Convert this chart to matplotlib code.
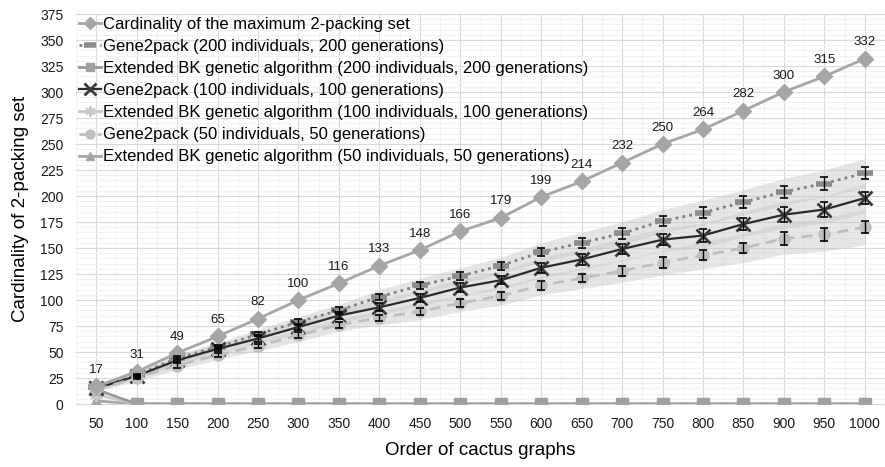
import matplotlib.pyplot as plt
from matplotlib.ticker import MultipleLocator

plt.rcParams['font.family'] = ['Liberation Sans', 'DejaVu Sans']

# order of the cactus graphs (categories)
orders = [50, 100, 150, 200, 250, 300, 350, 400, 450, 500,
          550, 600, 650, 700, 750, 800, 850, 900, 950, 1000]

# cardinality of the maximum 2-packing set
maximum = [17, 31, 49, 65, 82, 100, 116, 133, 148, 166,
           179, 199, 214, 232, 250, 264, 282, 300, 315, 332]

# Gene2pack results
g2p_200 = [16, 28, 44, 55, 67, 79, 90, 103, 114, 123,
           133, 146, 155, 164, 176, 184, 194, 204, 212, 222]
g2p_100 = [15, 27, 42, 53, 63, 74, 85, 93, 102, 112,
           119, 131, 139, 149, 158, 162, 173, 182, 187, 198]
g2p_50 = [14, 25, 37, 47, 56, 66, 76, 83, 89, 97,
          104, 114, 121, 128, 136, 143, 150, 159, 163, 170]

# error bars (half length)
err_200 = [0, 1, 2, 2, 2, 3, 3, 3, 3, 4, 4, 4, 5, 5, 5, 5, 6, 6, 6, 6]
err_100 = [0, 1, 2, 2, 3, 3, 3, 4, 4, 4, 4, 5, 5, 5, 5, 6, 6, 7, 7, 6]
err_50 = [0, 1, 2, 2, 2, 3, 3, 3, 3, 4, 4, 4, 4, 5, 5, 5, 5, 6, 6, 6]

# shaded spread around each series (half width)
band_200 = [2, 3, 4, 4, 5, 5, 6, 7, 7, 8, 8, 9, 10, 11, 11, 12, 12, 13, 13, 14]
band_100 = [2, 3, 4, 5, 5, 6, 7, 7, 8, 8, 9, 10, 10, 11, 11, 12, 12, 13, 13, 14]
band_50 = [2, 3, 4, 4, 5, 6, 6, 7, 8, 8, 9, 9, 10, 11, 12, 13, 14, 15, 16, 17]

# Extended BK genetic algorithm results
bk_200 = [14, 0, 0, 0, 0, 0, 0, 0, 0, 0, 0, 0, 0, 0, 0, 0, 0, 0, 0, 0]
bk_100 = [9, 0, 0, 0, 0, 0, 0, 0, 0, 0, 0, 0, 0, 0, 0, 0, 0, 0, 0, 0]
bk_50 = [3, 0, 0, 0, 0, 0, 0, 0, 0, 0, 0, 0, 0, 0, 0, 0, 0, 0, 0, 0]

x = list(range(len(orders)))

fig = plt.figure(figsize=(8.85, 4.67), dpi=100)
ax = fig.add_axes([76 / 885, 1 - 404 / 467, 1 - 76 / 885, (404 - 14) / 467])

# shaded bands
for vals, band in [(g2p_200, band_200), (g2p_100, band_100), (g2p_50, band_50)]:
    lo = [v - b for v, b in zip(vals, band)]
    hi = [v + b for v, b in zip(vals, band)]
    ax.fill_between(x, lo, hi, color='#c8c8c8', alpha=0.45, lw=0, zorder=1)


def add_errors(vals, err):
    # only draw bars where there is a spread
    pts = [(xi, v, e) for xi, v, e in zip(x, vals, err) if e > 0]
    ax.errorbar([p[0] for p in pts], [p[1] for p in pts], yerr=[p[2] for p in pts],
                fmt='none', ecolor='black', elinewidth=1, capsize=3, capthick=1.2,
                zorder=6)


h1, = ax.plot(x, maximum, color='#a6a6a6', lw=2, marker='D', ms=8,
              mfc='#a6a6a6', mec='#a6a6a6', zorder=5,
              label='Cardinality of the maximum 2-packing set')

h2, = ax.plot(x, g2p_200, color='#808080', lw=2, ls=(0, (1, 1.5)), marker='_',
              ms=11, mew=4, mec='#8c8c8c', zorder=4,
              label='Gene2pack (200 individuals, 200 generations)')
add_errors(g2p_200, err_200)

h4, = ax.plot(x, g2p_100, color='#2b2b2b', lw=1.6, marker='x', ms=10, mew=2,
              mec='#3a3a3a', zorder=4,
              label='Gene2pack (100 individuals, 100 generations)')
add_errors(g2p_100, err_100)

h6, = ax.plot(x, g2p_50, color='#bfbfbf', lw=2, ls=(0, (4, 2.5)), marker='o',
              ms=8, mfc='#bfbfbf', mec='#bfbfbf', zorder=4,
              label='Gene2pack (50 individuals, 50 generations)')
add_errors(g2p_50, err_50)

h7, = ax.plot(x, bk_50, color='#a6a6a6', lw=2, marker='^', ms=8,
              mfc='#a6a6a6', mec='#a6a6a6', zorder=3,
              label='Extended BK genetic algorithm (50 individuals, 50 generations)')
h5, = ax.plot(x, bk_100, color='#c8c8c8', lw=2, marker=(6, 2, 0), ms=9, mew=1.5,
              mec='#c8c8c8', zorder=3,
              label='Extended BK genetic algorithm (100 individuals, 100 generations)')
h3, = ax.plot(x, bk_200, color='#999999', lw=2, marker='s', ms=8,
              mfc='#a0a0a0', mec='#a0a0a0', zorder=3,
              label='Extended BK genetic algorithm (200 individuals, 200 generations)')

# value labels on the maximum series
for xi, v in zip(x, maximum):
    ax.annotate(str(v), (xi, v), xytext=(0, 7.5), textcoords='offset points',
                ha='center', va='bottom', fontsize=9.5, color='#1a1a1a')

ax.set_xlim(-0.5, len(orders) - 0.5)
ax.set_ylim(0, 375)
ax.set_xticks(x)
ax.set_xticklabels([str(o) for o in orders])
ax.xaxis.set_minor_locator(MultipleLocator(0.5))
ax.yaxis.set_major_locator(MultipleLocator(25))
ax.yaxis.set_minor_locator(MultipleLocator(5))
ax.tick_params(which='both', length=0)
ax.tick_params(axis='x', labelsize=10, pad=9, colors='#1a1a1a')
ax.tick_params(axis='y', labelsize=10, pad=9, colors='#1a1a1a')
ax.grid(which='major', color='#d9d9d9', lw=0.8)
ax.grid(which='minor', color='#f0f0f0', lw=0.6)
ax.set_axisbelow(True)
for s in ['top', 'right', 'left']:
    ax.spines[s].set_visible(False)
ax.spines['bottom'].set_color('#d9d9d9')

ax.set_xlabel('Order of cactus graphs', fontsize=13.5, labelpad=8)
ax.set_ylabel('Cardinality of 2-packing set', fontsize=13.5, labelpad=8)

leg = ax.legend(handles=[h1, h2, h3, h4, h5, h6, h7], loc='upper left',
                bbox_to_anchor=(0.0, 1.0), frameon=False, fontsize=12,
                handlelength=1.35, handletextpad=0.1, labelspacing=0.43,
                borderaxespad=0.1, borderpad=0.05, markerscale=0.8)
leg.set_zorder(10)

fig.savefig('out.png', dpi=100)
